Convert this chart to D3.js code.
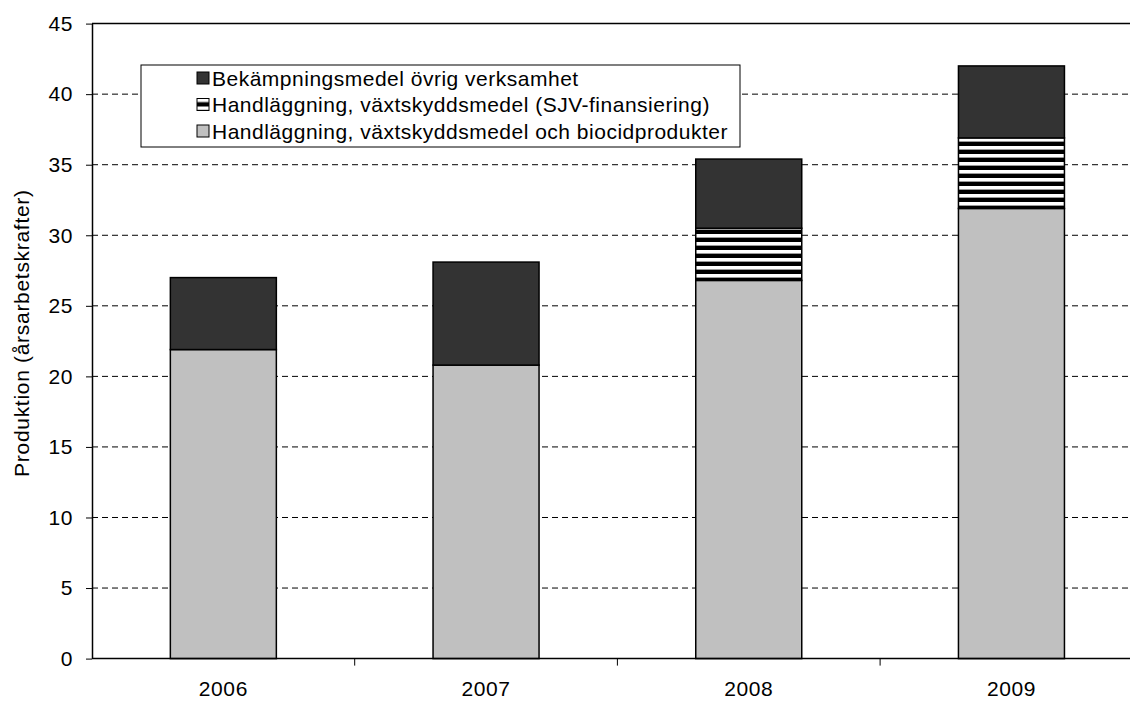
<!DOCTYPE html>
<html>
<head>
<meta charset="utf-8">
<script src="https://cdn.jsdelivr.net/npm/d3@7"></script>
<style>
  body { margin: 0; background: #fff; }
  svg { font-family: "Liberation Sans", Arial, sans-serif; }
</style>
</head>
<body>
<svg width="1130" height="702"></svg>
<script>
const years = ["2006", "2007", "2008", "2009"];
const biocid = [21.9, 20.8, 26.8, 31.9];
const sjv = [0, 0, 3.7, 5.0];
const ovrig = [5.1, 7.3, 4.9, 5.1];
const yTicks = [0, 5, 10, 15, 20, 25, 30, 35, 40, 45];
const seriesNames = [
  "Bekämpningsmedel övrig verksamhet",
  "Handläggning, växtskyddsmedel (SJV-finansiering)",
  "Handläggning, växtskyddsmedel och biocidprodukter"
];

const svg = d3.select("svg"),
    width = +svg.attr("width"),
    height = +svg.attr("height");

const plotLeft = 92, plotTop = 23.6, plotBottom = 658.6;
const band = 262.7;

// pattern for SJV stripes
const defs = svg.append("defs");
const pat = defs.append("pattern")
    .attr("id", "stripes")
    .attr("patternUnits", "userSpaceOnUse")
    .attr("width", 8).attr("height", 8);
pat.append("rect").attr("width", 8).attr("height", 8).attr("fill", "#000");
pat.append("rect").attr("y", 2).attr("width", 8).attr("height", 3.6).attr("fill", "#fff");

const x = d3.scaleBand()
    .domain(years)
    .range([plotLeft, plotLeft + band * years.length])
    .paddingInner(0).paddingOuter(0);

const y = d3.scaleLinear().domain([0, 45]).range([plotBottom, plotTop]);

// gridlines
svg.append("g")
  .selectAll("line")
  .data(yTicks.filter(t => t > 0 && t < 45))
  .enter().append("line")
  .attr("x1", plotLeft).attr("x2", width)
  .attr("y1", d => y(d)).attr("y2", d => y(d))
  .attr("stroke", "#000")
  .attr("stroke-width", 1)
  .attr("stroke-dasharray", "6,4");

// top frame line
svg.append("line")
  .attr("x1", plotLeft).attr("x2", width)
  .attr("y1", y(45)).attr("y2", y(45))
  .attr("stroke", "#000").attr("stroke-width", 1.5);

// stacked bars
const stackData = years.map((yr, i) => ({ year: yr, biocid: biocid[i], sjv: sjv[i], ovrig: ovrig[i] }));
const stack = d3.stack().keys(["biocid", "sjv", "ovrig"])(stackData);
const fills = { biocid: "#c0c0c0", sjv: "url(#stripes)", ovrig: "#333333" };
const barW = 106;

stack.forEach(layer => {
  svg.append("g")
    .selectAll("rect")
    .data(layer.filter(d => d[1] - d[0] > 0))
    .enter().append("rect")
    .attr("x", d => x(d.data.year) + x.bandwidth() / 2 - barW / 2)
    .attr("width", barW)
    .attr("y", d => y(d[1]))
    .attr("height", d => y(d[0]) - y(d[1]))
    .attr("fill", fills[layer.key])
    .attr("stroke", "#000")
    .attr("stroke-width", 1.5);
});

// y axis
const yAxis = svg.append("g")
  .attr("transform", `translate(${plotLeft},0)`)
  .call(d3.axisLeft(y).tickValues(yTicks).tickSize(6).tickPadding(13).tickSizeOuter(0));
yAxis.select(".domain").attr("stroke-width", 1.5);
yAxis.selectAll("text")
  .attr("font-size", 21).attr("letter-spacing", 0.6)
  .attr("fill", "#000").attr("font-family", "Liberation Sans, Arial, sans-serif");

// x axis
const xAxis = svg.append("g")
  .attr("transform", `translate(0,${plotBottom})`)
  .call(d3.axisBottom(x).tickSize(0).tickPadding(22));
xAxis.select(".domain").attr("stroke-width", 1.5).attr("d", `M${plotLeft},0H${width}`);
xAxis.selectAll("text")
  .attr("font-size", 21).attr("letter-spacing", 0.6)
  .attr("fill", "#000").attr("font-family", "Liberation Sans, Arial, sans-serif");
// separator ticks between categories
xAxis.append("g")
  .selectAll("line")
  .data(years.slice(1))
  .enter().append("line")
  .attr("x1", d => x(d)).attr("x2", d => x(d))
  .attr("y1", 0).attr("y2", 7)
  .attr("stroke", "#000");

// y axis title
svg.append("text")
  .attr("transform", `translate(21,${(plotTop + plotBottom) / 2 - 8}) rotate(-90)`)
  .attr("text-anchor", "middle")
  .attr("dominant-baseline", "central")
  .attr("font-size", 21)
  .attr("letter-spacing", 0.7)
  .text("Produktion (årsarbetskrafter)");

// legend
const legend = svg.append("g");
legend.append("rect")
  .attr("x", 141).attr("y", 65)
  .attr("width", 599).attr("height", 82)
  .attr("fill", "#fff")
  .attr("stroke", "#000").attr("stroke-width", 1);

const legendFills = ["#333333", "url(#stripes)", "#c0c0c0"];
const rows = legend.selectAll("g.row")
  .data(seriesNames)
  .enter().append("g")
  .attr("class", "row")
  .attr("transform", (d, i) => `translate(197,${78 + i * 26.5})`);

rows.append("rect")
  .attr("x", 0).attr("y", -6)
  .attr("width", 12).attr("height", 12)
  .attr("fill", (d, i) => legendFills[i])
  .attr("stroke", "#000").attr("stroke-width", 1);

rows.append("text")
  .attr("x", 15)
  .attr("dominant-baseline", "central")
  .attr("font-size", 21)
  .attr("letter-spacing", 0.5)
  .text(d => d);
</script>
</body>
</html>
